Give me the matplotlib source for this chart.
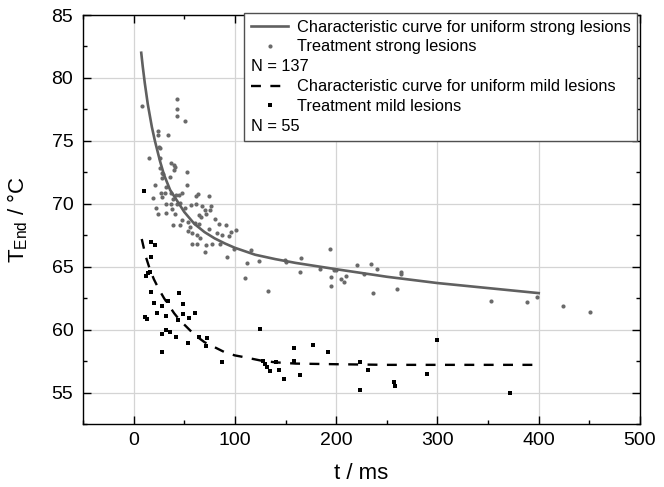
import matplotlib
matplotlib.use("Agg")
import matplotlib.pyplot as plt
from matplotlib.lines import Line2D
from matplotlib.ticker import MultipleLocator

plt.rcParams['font.family'] = ['Liberation Sans', 'DejaVu Sans']
plt.rcParams['mathtext.fontset'] = 'custom'
plt.rcParams['mathtext.rm'] = 'Liberation Sans'
plt.rcParams['mathtext.it'] = 'Liberation Sans:italic'

# characteristic curves
curve_strong_t = [7.5, 9, 11, 14, 18, 21, 26, 30, 36, 44, 50, 60, 70, 80, 90, 100,
                  120, 140, 160, 200, 250, 300, 350, 400]
curve_strong_T = [82.0, 80.9, 79.6, 77.9, 76.1, 75.0, 73.4, 72.3, 71.1, 70.1, 69.35,
                  68.4, 67.75, 67.25, 66.85, 66.5, 65.95, 65.6, 65.3, 64.8, 64.2,
                  63.7, 63.3, 62.9]
curve_mild_t = [8, 12, 16, 20, 25, 30, 35, 40, 45, 50, 55, 60, 70, 80, 90, 100, 110,
                125, 140, 160, 200, 250, 300, 400]
curve_mild_T = [67.2, 65.8, 64.8, 64.0, 63.2, 62.5, 61.9, 61.3, 60.8, 60.4, 60.0,
                59.6, 59.0, 58.6, 58.2, 57.95, 57.8, 57.55, 57.4, 57.3, 57.25, 57.2,
                57.2, 57.2]

# treatment strong lesions
strong_t = [8, 43.3, 42.7, 42.7, 50.7, 24.3, 24.3, 34.3, 25, 26.3, 15, 25.7, 37.3,
            39.7, 40.7, 39.7, 26, 27.7, 29, 52.3, 27.7, 35.7, 21.3, 52.7, 31.7, 27.3,
            31.3, 36.7, 42, 44.7, 48, 64, 61.3, 74, 19.3, 28.3, 38.7, 45.7, 31.7,
            36.7, 43.3, 56.7, 62, 76.7, 22.3, 50.7, 67.3, 70.7, 75, 24.3, 31.7, 38.3,
            41.3, 64.3, 66.7, 71.7, 80, 48, 54, 60.7, 64.7, 84.7, 91, 38.7, 45.7,
            55.7, 54, 57.3, 74.3, 82.3, 87.3, 94, 96.3, 101.3, 63, 66,
            57.8, 62.7, 71, 77.6, 85, 70, 91.7, 99, 112, 123.8, 110, 132.7, 150, 164,
            116, 149.5, 165,
            184, 194, 195, 195, 198, 200, 205, 207.6, 209.6, 220.6, 227.6, 234.6,
            240.5, 236.5, 259.8, 263.8, 263.8,
            353, 388, 398, 424, 451]
strong_T = [77.75, 78.3, 77.5, 77.0, 76.6, 75.8, 75.45, 75.5, 74.55, 74.45, 73.65,
            73.65, 73.2, 73.05, 72.9, 72.7, 72.85, 72.45, 72.4, 72.5, 72.05, 72.1,
            71.5, 71.5, 71.3, 70.85, 70.85, 70.85, 70.7, 70.7, 70.85, 70.75, 70.6,
            70.6, 70.45, 70.5, 70.35, 70.1, 70.0, 70.0, 70.0, 69.9, 70.0, 69.8, 69.7,
            69.65, 69.8, 69.5, 69.5, 69.2, 69.3, 69.55, 69.15, 69.1, 68.95, 69.15,
            68.8, 68.75, 68.55, 68.45, 68.4, 68.4, 68.35, 68.35, 68.3, 68.15, 67.8,
            67.65, 68.0, 67.7, 67.5, 67.4, 67.75, 67.9, 67.5, 67.3,
            66.8, 66.8, 66.7, 66.8, 66.8, 66.2, 65.8, 66.4, 65.3, 65.45, 64.1, 63.1,
            65.4, 64.6,
            66.3, 65.5, 65.7,
            64.8, 66.4, 64.2, 63.5, 64.7, 64.7, 64.0, 63.8, 64.3, 65.1, 64.4, 65.2,
            64.8, 62.9, 63.2, 64.6, 64.4,
            62.3, 62.2, 62.6, 61.9, 61.4]

# treatment mild lesions
mild_t = [10, 17.4, 20.7, 17, 12.5, 14.1, 16.4, 17, 45.2, 19.7, 27.9, 33.8, 48.5,
          23, 31.8, 48.9, 60.3, 11.5, 13.1, 43.6, 54.4, 31.8, 36, 28.5, 41.6, 65,
          72.8, 53.8, 71.5, 28.5,
          125, 86.8, 128, 129.7, 132, 134.6, 141, 144, 148.5, 157.9, 157.9, 164,
          177.6, 192.4, 224, 231, 223.7, 257.5, 258.5, 289.7, 299.7, 372]
mild_T = [71.0, 67.0, 66.75, 65.8, 64.3, 64.5, 64.55, 63.0, 62.9, 62.1, 61.9, 62.3,
          62.0, 61.35, 61.1, 61.25, 61.3, 61.0, 60.85, 60.8, 60.9, 60.0, 59.85,
          59.65, 59.4, 59.45, 59.3, 58.9, 58.7, 58.2,
          60.05, 57.4, 57.5, 57.3, 57.0, 56.7, 57.4, 56.8, 56.1, 58.5, 57.5, 56.4,
          58.75, 58.2, 57.4, 56.8, 55.2, 55.8, 55.5, 56.5, 59.2, 55.0]

fig = plt.figure(figsize=(6.64, 4.87), dpi=100)
ax = fig.add_axes([83 / 664, 1 - 424 / 487, 557 / 664, 409 / 487])

l1, = ax.plot(curve_strong_t, curve_strong_T, color='#606060', lw=1.9, zorder=3)
s1, = ax.plot(strong_t, strong_T, 'o', color='#6a6a6a', ms=3.0, mew=0, zorder=2)
l2, = ax.plot(curve_mild_t, curve_mild_T, color='black', lw=1.7, ls=(0, (4.2, 4.0)), zorder=3)
s2, = ax.plot(mild_t, mild_T, 's', color='black', ms=2.3, mew=0, zorder=2)

ax.set_xlim(-50, 500)
ax.set_ylim(52.5, 85)
ax.xaxis.set_major_locator(MultipleLocator(100))
ax.xaxis.set_minor_locator(MultipleLocator(50))
ax.yaxis.set_major_locator(MultipleLocator(5))
ax.yaxis.set_minor_locator(MultipleLocator(2.5))
ax.tick_params(which='both', direction='in', top=True, right=True, width=1, labelsize=14)
ax.tick_params(which='major', length=6)
ax.tick_params(which='minor', length=3)
ax.tick_params(axis='y', pad=7)
ax.tick_params(axis='x', pad=6)
ax.grid(True, which='major', color='#d4d4d4', lw=0.9)
ax.set_axisbelow(True)
for s in ax.spines.values():
    s.set_linewidth(1.0)

ax.set_xlabel('t / ms', fontsize=16)
ax.set_ylabel(r'T$_{\mathrm{End}}$ / °C', fontsize=16)
ax.xaxis.set_label_coords(0.5, -0.095)
ax.yaxis.set_label_coords(-0.095, 0.5)

blank1 = Line2D([], [], ls='none')
blank2 = Line2D([], [], ls='none')
leg = ax.legend([l1, s1, blank1, l2, s2, blank2],
                ['Characteristic curve for uniform strong lesions', 'Treatment strong lesions',
                 'N = 137', 'Characteristic curve for uniform mild lesions',
                 'Treatment mild lesions', 'N = 55'],
                loc='upper right', bbox_to_anchor=(637 / 664, 1 - 13 / 487),
                bbox_transform=fig.transFigure, borderaxespad=0, fontsize=11.8,
                numpoints=1, handlelength=2.3, handletextpad=0.5, labelspacing=0.3,
                borderpad=0.4, fancybox=False, framealpha=1, edgecolor='#505050')
leg.get_frame().set_linewidth(1.0)
# put the "N = ..." rows flush left
rows = leg._legend_handle_box.get_children()[0].get_children()
for i in (2, 5):
    rows[i].get_children()[0].width = 0
    rows[i].sep = 0

fig.savefig('out.png', dpi=100)
